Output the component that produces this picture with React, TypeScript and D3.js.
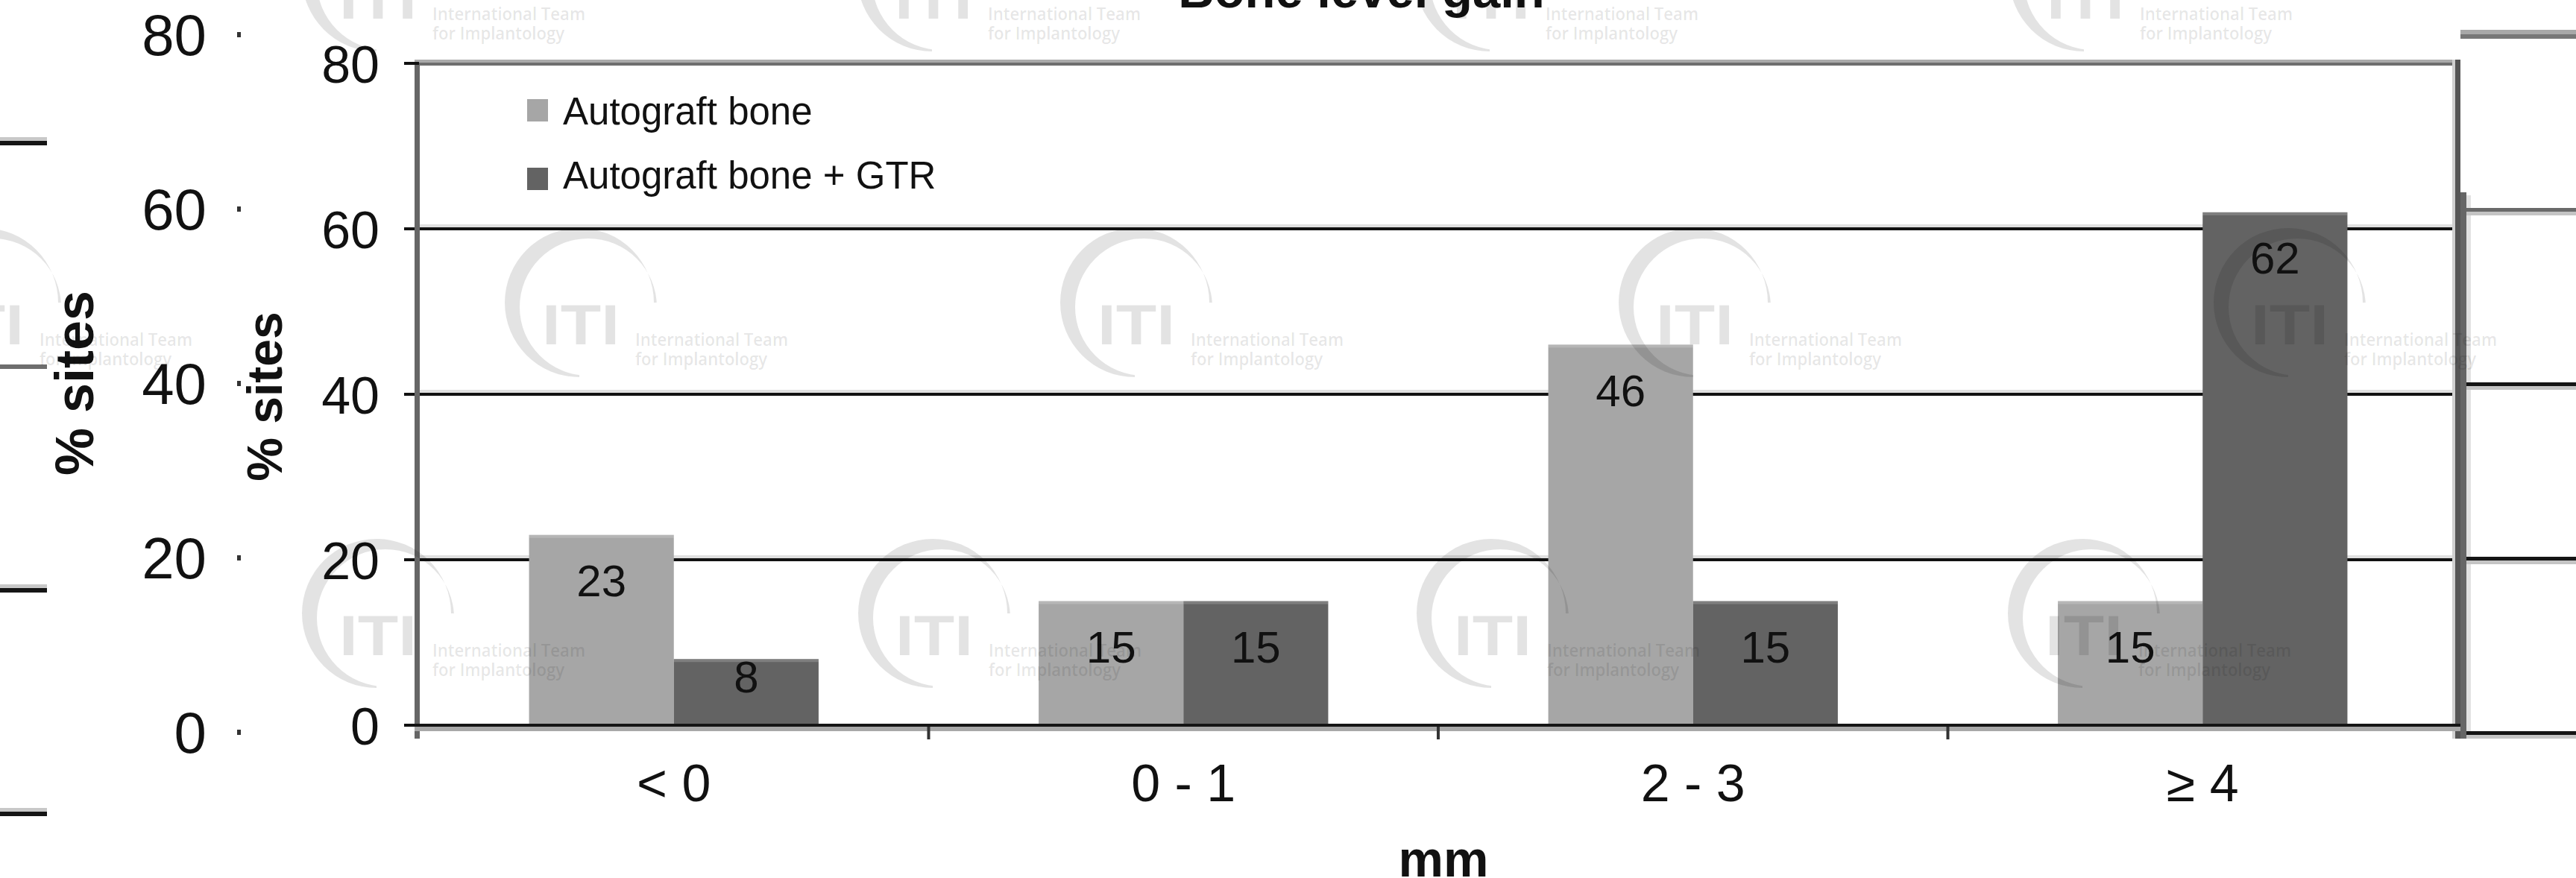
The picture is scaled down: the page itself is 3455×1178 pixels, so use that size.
import React from "react";
import * as d3 from "d3";

const categories = ["< 0", "0 - 1", "2 - 3", "≥ 4"];
const seriesNames = ["Autograft bone", "Autograft bone + GTR"];
const autograft = [23, 15, 46, 15];
const autograftGTR = [8, 15, 15, 62];
const yTicks = [0, 20, 40, 60, 80];
const ghostTicks = [0, 20, 40, 60, 80];
const title = "Bone level gain";
const xTitle = "mm";
const yTitle = "% sites";

const W = 3455;
const H = 1178;
const FONT = "'Liberation Sans', Arial, sans-serif";
const COLORS = ["#a6a6a6", "#636363"];

const WM_ROWS = [
  { by: 25, xs: [455, 1200, 1948, 2745] },
  { by: 462, xs: [-72, 727, 1472, 2221, 3019] },
  { by: 879, xs: [455, 1201, 1950, 2743] },
];

function Watermark({ x, y }: { x: number; y: number }) {
  const outer = d3.path();
  outer.arc(50, -56, 100, 0, Math.PI * 2);
  const inner = d3.path();
  inner.moveTo(62 + 92, -50);
  inner.arc(62, -50, 92, 0, Math.PI * 2);
  return (
    <g transform={`translate(${x},${y})`} fill="#000" fillOpacity={0.11}>
      <path
        d={outer.toString() + inner.toString()}
        fillRule="evenodd"
        clipPath="url(#wmclip)"
      />
      <text x={0} y={0} fontFamily={FONT} fontWeight="bold" fontSize={76} textLength={104} lengthAdjust="spacingAndGlyphs">
        ITI
      </text>
      <text x={125} y={2} fontFamily="'Open Sans', sans-serif" fontWeight="600" fontSize={24} textLength={205} lengthAdjust="spacingAndGlyphs">
        International Team
      </text>
      <text x={125} y={28} fontFamily="'Open Sans', sans-serif" fontWeight="600" fontSize={24} textLength={177} lengthAdjust="spacingAndGlyphs">
        for Implantology
      </text>
    </g>
  );
}

export default function App() {
  const left = 562;
  const right = 3296;
  const y = d3.scaleLinear().domain([0, 80]).range([973, 85]);
  const yGhost = d3.scaleLinear().domain([0, 80]).range([983, 47]);
  const x0 = d3.scaleBand<string>().domain(categories).range([left, right]).padding(0);
  const x1 = d3
    .scaleBand<string>()
    .domain(seriesNames)
    .range([0, x0.bandwidth()])
    .paddingInner(0)
    .paddingOuter(0.76);
  const seriesValues = [autograft, autograftGTR];
  const boundaries = categories.slice(1).map((c) => x0(c) as number);
  const ghostLeftLines = [0, 1, 2, 3].map((i) => 190 + i * 300);

  return (
    <svg
      width={W}
      height={H}
      viewBox={`0 0 ${W} ${H}`}
      style={{ position: "absolute", left: 0, top: 0, background: "#fff" }}
    >
      <defs>
        <clipPath id="wmclip">
          <path d="M -70 -180 H 180 V -56 H 50 V 70 H -70 Z" />
        </clipPath>
      </defs>
      <rect x={0} y={0} width={W} height={H} fill="#fff" />

      {/* ghost left axis */}
      {ghostTicks.map((t) => (
        <g key={"gt" + t}>
          <text
            x={277}
            y={yGhost(t)}
            textAnchor="end"
            dominantBaseline="central"
            fontFamily={FONT}
            fontSize={78}
            fill="#111"
          >
            {t}
          </text>
          <rect x={318} y={yGhost(t) - 4} width={5} height={7} fill="#333" />
        </g>
      ))}
      <text
        transform={`translate(100,514) rotate(-90)`}
        textAnchor="middle"
        dominantBaseline="central"
        fontFamily={FONT}
        fontWeight="bold"
        fontSize={72}
        fill="#111"
      >
        {yTitle}
      </text>
      {ghostLeftLines.map((ly, i) => (
        <g key={"gl" + i}>
          <rect x={0} y={ly - 6} width={63} height={5} fill={i === 1 ? "#fff" : "#c8c8c8"} />
          <rect x={0} y={ly - 1} width={63} height={6} fill={i === 1 ? "#6e6e6e" : "#151515"} />
        </g>
      ))}

      {/* ghost right frame */}
      <rect x={3300} y={40} width={155} height={6} fill="#a8a8a8" />
      <rect x={3300} y={46} width={155} height={6} fill="#777" />
      <rect x={3300} y={258} width={8} height={733} fill="#666" />
      <rect x={3308} y={262} width={6} height={729} fill="#e2e2e2" />
      {ghostTicks.slice(0, 4).map((t) => (
        <g key={"gr" + t}>
          <rect x={3308} y={yGhost(t) - 2} width={147} height={5} fill={t === 60 ? "#6a6a6a" : "#151515"} />
          <rect x={3308} y={yGhost(t) + 3} width={147} height={5} fill="#c4c4c4" />
        </g>
      ))}

      {/* title */}
      <text
        x={1826}
        y={10}
        textAnchor="middle"
        fontFamily={FONT}
        fontWeight="bold"
        fontSize={67}
        fill="#111"
      >
        {title}
      </text>

      {/* gridlines */}
      {yTicks.slice(1, 4).map((t) => (
        <g key={"g" + t}>
          <rect x={left - 6} y={y(t) - 6} width={right - left + 2} height={5} fill="#e0e0e0" />
          <rect x={left - 20} y={y(t) - 2} width={right - left + 16} height={4} fill="#111" />
        </g>
      ))}

      {/* bars */}
      {categories.map((c, ci) => (
        <g key={c} transform={`translate(${x0(c)},0)`}>
          {seriesNames.map((s, si) => {
            const v = seriesValues[si][ci];
            const top = y(v);
            const h = y(0) - top;
            const labelY = top + Math.min(62, h / 2 - 20);
            return (
              <g key={s}>
                <rect x={x1(s)} y={top} width={x1.bandwidth()} height={h} fill={COLORS[si]} />
                <rect x={x1(s)} y={top} width={x1.bandwidth()} height={4} fill="#fff" fillOpacity={0.18} />
                <text
                  x={(x1(s) as number) + x1.bandwidth() / 2}
                  y={labelY}
                  textAnchor="middle"
                  dominantBaseline="central"
                  fontFamily={FONT}
                  fontSize={60}
                  fill="#111"
                >
                  {v}
                </text>
              </g>
            );
          })}
        </g>
      ))}

      {/* frame */}
      <rect x={556} y={80} width={3300 - 556} height={4} fill="#aaa" />
      <rect x={556} y={84} width={3300 - 556} height={4} fill="#6e6e6e" />
      <rect x={556} y={84} width={7} height={991 - 84} fill="#666" />
      <rect x={3289} y={80} width={4} height={911} fill="#d0d0d0" />
      <rect x={3293} y={80} width={7} height={911} fill="#555" />
      <rect x={left - 20} y={y(80) - 2} width={20} height={4} fill="#111" />
      <rect x={left - 20} y={y(0) - 2} width={20} height={4} fill="#111" />
      <rect x={556} y={971} width={3300 - 556} height={4} fill="#151515" />
      <rect x={556} y={975} width={3300 - 556} height={6} fill="#a8a8a8" />
      {boundaries.map((b, i) => (
        <rect key={"b" + i} x={b - 2} y={975} width={4} height={17} fill="#333" />
      ))}

      {/* y tick labels */}
      {yTicks.map((t) => (
        <text
          key={"yt" + t}
          x={509}
          y={y(t) + 2}
          textAnchor="end"
          dominantBaseline="central"
          fontFamily={FONT}
          fontSize={70}
          fill="#111"
        >
          {t}
        </text>
      ))}

      {/* x tick labels */}
      {categories.map((c) => (
        <text
          key={"xl" + c}
          x={(x0(c) as number) + x0.bandwidth() / 2}
          y={1051}
          textAnchor="middle"
          dominantBaseline="central"
          fontFamily={FONT}
          fontSize={70}
          fill="#111"
        >
          {c}
        </text>
      ))}

      {/* axis titles */}
      <text
        x={1936}
        y={1152}
        textAnchor="middle"
        dominantBaseline="central"
        fontFamily={FONT}
        fontWeight="bold"
        fontSize={68}
        fill="#111"
      >
        {xTitle}
      </text>
      <text
        transform={`translate(355,532) rotate(-90)`}
        textAnchor="middle"
        dominantBaseline="central"
        fontFamily={FONT}
        fontWeight="bold"
        fontSize={66}
        fill="#111"
      >
        {yTitle}
      </text>

      {/* legend */}
      {seriesNames.map((s, i) => (
        <g key={"lg" + s}>
          <rect x={707} y={133 + i * 92} width={28} height={30} fill={COLORS[i]} />
          <text x={755} y={167 + i * 86} fontFamily={FONT} fontSize={51} fill="#111">
            {s}
          </text>
        </g>
      ))}

      {/* watermarks */}
      {WM_ROWS.map((row, ri) =>
        row.xs.map((wx, wi) => <Watermark key={`wm${ri}-${wi}`} x={wx} y={row.by} />)
      )}
    </svg>
  );
}
